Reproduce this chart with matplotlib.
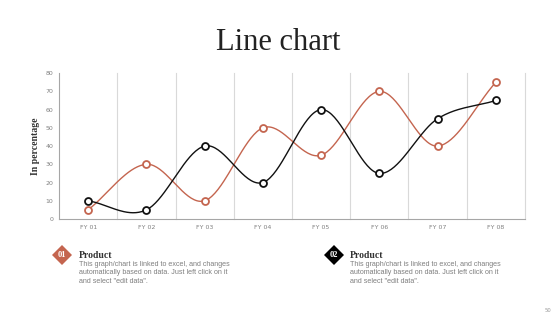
import numpy as np
import matplotlib
matplotlib.use("Agg")
import matplotlib.pyplot as plt
from matplotlib.patches import Polygon

categories = ["FY 01", "FY 02", "FY 03", "FY 04", "FY 05", "FY 06", "FY 07", "FY 08"]
series_orange = [5, 30, 10, 50, 35, 70, 40, 75]
series_black = [10, 5, 40, 20, 60, 25, 55, 65]
yticks = [0, 10, 20, 30, 40, 50, 60, 70, 80]

ORANGE = "#C4654F"
BLACK = "#111111"
GRID = "#D9D9D9"
TICKC = "#808080"


def smooth(x, y, n=40):
    x = np.asarray(x, float)
    y = np.asarray(y, float)
    px = np.concatenate([[2 * x[0] - x[1]], x, [2 * x[-1] - x[-2]]])
    py = np.concatenate([[2 * y[0] - y[1]], y, [2 * y[-1] - y[-2]]])
    xs, ys = [], []
    t = np.linspace(0, 1, n)
    for i in range(1, len(px) - 2):
        p0, p1, p2, p3 = px[i - 1], px[i], px[i + 1], px[i + 2]
        q0, q1, q2, q3 = py[i - 1], py[i], py[i + 1], py[i + 2]
        c1x, c1y = p1 + (p2 - p0) / 6, q1 + (q2 - q0) / 6
        c2x, c2y = p2 - (p3 - p1) / 6, q2 - (q3 - q1) / 6
        bx = (1 - t) ** 3 * p1 + 3 * (1 - t) ** 2 * t * c1x + 3 * (1 - t) * t ** 2 * c2x + t ** 3 * p2
        by = (1 - t) ** 3 * q1 + 3 * (1 - t) ** 2 * t * c1y + 3 * (1 - t) * t ** 2 * c2y + t ** 3 * q2
        xs.append(bx)
        ys.append(by)
    return np.concatenate(xs), np.concatenate(ys)


fig = plt.figure(figsize=(5.6, 3.15), dpi=100)
fig.patch.set_facecolor("white")

fig.text(0.497, 0.865, "Line chart", ha="center", va="center",
         fontsize=22, family="Liberation Serif", color="#222222")

ax = fig.add_axes([0.1054, 0.3048, 0.832, 0.463])
x = np.arange(len(categories))
for b in np.arange(0.5, len(categories) + 0.5, 1.0):
    ax.axvline(b, color=GRID, lw=0.8, zorder=0, clip_on=False)

for vals, col in [(series_orange, ORANGE), (series_black, BLACK)]:
    sx, sy = smooth(x, vals)
    ax.plot(sx, sy, color=col, lw=1.0, zorder=2)
    ax.plot(x, vals, linestyle="none", marker="o", ms=5, mfc="white",
            mec=col, mew=1.3, zorder=3)

ax.set_xlim(-0.5, len(categories) - 0.5)
ax.set_ylim(0, 80)
ax.set_yticks(yticks)
ax.set_xticks(x)
ax.set_xticklabels(categories)
ax.tick_params(axis="both", length=0, labelsize=4.5, labelcolor=TICKC, pad=4)
for s in ["top", "right"]:
    ax.spines[s].set_visible(False)
for s in ["left", "bottom"]:
    ax.spines[s].set_color("#A6A6A6")
    ax.spines[s].set_linewidth(0.8)
ax.set_ylabel("In percentage", family="Liberation Serif", fontsize=7,
              fontweight="bold", color="#333333", labelpad=4)


def legend_block(cx, cy, fill, num, tx):
    W, H = 560.0, 315.0
    r = 10
    pts = [((cx) / W, (H - cy + r) / H), ((cx + r) / W, (H - cy) / H),
           ((cx) / W, (H - cy - r) / H), ((cx - r) / W, (H - cy) / H)]
    fig.patches.append(Polygon(pts, closed=True, transform=fig.transFigure,
                               facecolor=fill, edgecolor="none"))
    fig.text(cx / W, 1 - cy / H, num, ha="center", va="center", fontsize=6,
             color="white", family="Liberation Serif", fontweight="bold")
    fig.text(tx / W, 1 - cy / H, "Product", ha="left", va="center", fontsize=7,
             color="#333333", family="Liberation Serif", fontweight="bold")
    lines = ["This graph/chart is linked to excel, and changes",
             "automatically based on data. Just left click on it",
             "and select \"edit data\"."]
    for i, ln in enumerate(lines):
        fig.text(tx / W, 1 - (cy + 9 + i * 8.7) / H, ln, ha="left", va="center",
                 fontsize=5.1, color="#7F7F7F", family="Liberation Sans")


legend_block(62, 255, ORANGE, "01", 79)
legend_block(334, 255, "#000000", "02", 350)

fig.text(548 / 560, 1 - 310 / 315, "50", ha="center", va="center",
         fontsize=3.8, color="#999999")

fig.savefig("out.png", dpi=100)
